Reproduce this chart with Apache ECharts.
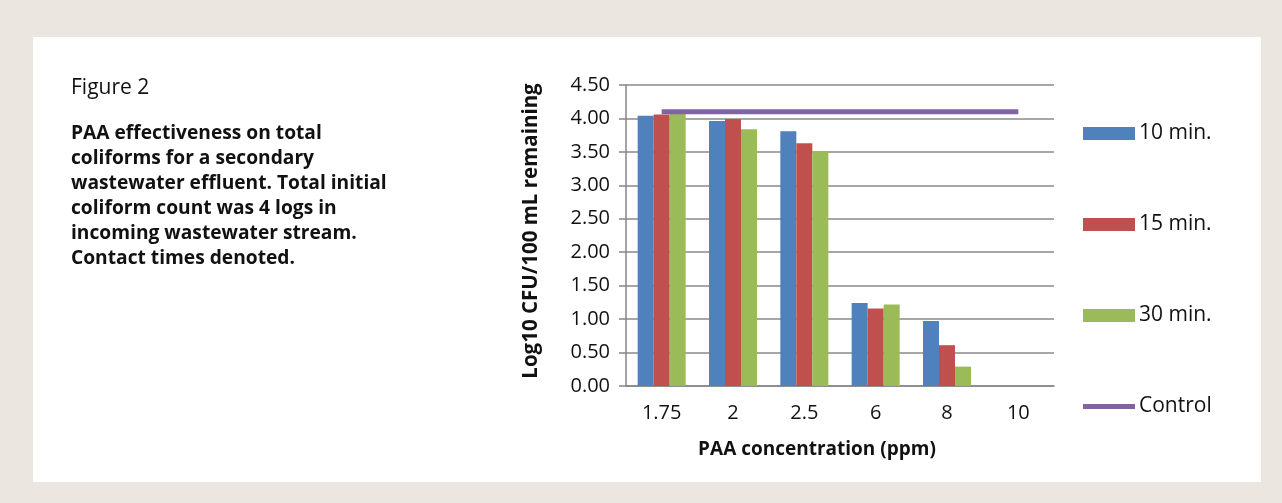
<!DOCTYPE html>
<html>
<head>
<meta charset="utf-8">
<script src="https://cdn.jsdelivr.net/npm/echarts@6/dist/echarts.min.js"></script>
<style>
html,body{margin:0;padding:0;background:#ebe6e0;}
#box{position:absolute;left:33px;top:37px;width:1228px;height:445px;background:#ffffff;}
#chart{position:absolute;left:0;top:0;width:1282px;height:503px;}
</style>
</head>
<body>
<div id="box"></div>
<div id="chart"></div>
<script>
var categories = ['1.75', '2', '2.5', '6', '8', '10'];
var min10 = [4.04, 3.96, 3.81, 1.24, 0.97, 0];
var min15 = [4.06, 3.99, 3.63, 1.16, 0.61, 0];
var min30 = [4.07, 3.84, 3.51, 1.22, 0.29, 0];
var control = [4.10, 4.10, 4.10, 4.10, 4.10, 4.10];
var seriesNames = ['10 min.', '15 min.', '30 min.', 'Control'];
var captionTitle = 'Figure 2';
var captionLines = [
  'PAA effectiveness on total',
  'coliforms for a secondary',
  'wastewater effluent. Total initial',
  'coliform count was 4 logs in',
  'incoming wastewater stream.',
  'Contact times denoted.'
];
var xTitle = 'PAA concentration (ppm)';
var yTitle = 'Log10 CFU/100 mL remaining';

var FONT = 'Open Sans';
var chart = echarts.init(document.getElementById('chart'), null, {renderer: 'canvas'});

var graphics = [{
  type: 'text', x: 71, y: 88,
  style: {text: captionTitle, font: '21px "' + FONT + '"', fill: '#111', textVerticalAlign: 'middle', verticalAlign: 'middle'}
}];
captionLines.forEach(function (t, i) {
  graphics.push({
    type: 'text', x: 71, y: 134 + i * 25,
    style: {text: t, font: 'bold 19.2px "' + FONT + '"', fill: '#111', textVerticalAlign: 'middle', verticalAlign: 'middle'}
  });
});
graphics.push({
  type: 'text', x: 817, y: 450,
  style: {text: xTitle, font: 'bold 19px "' + FONT + '"', fill: '#111', align: 'center', verticalAlign: 'middle', textAlign: 'center', textVerticalAlign: 'middle'}
});
graphics.push({
  type: 'text', x: 531, y: 231, rotation: Math.PI / 2,
  style: {text: yTitle, font: 'bold 20.5px "' + FONT + '"', fill: '#111', align: 'center', verticalAlign: 'middle', textAlign: 'center', textVerticalAlign: 'middle'}
});

function barSeries(name, data, color) {
  return {
    name: name, type: 'bar', data: data, barWidth: 16, barGap: '0%',
    itemStyle: {color: color}, z: 2
  };
}

chart.setOption({
  animation: false,
  textStyle: {fontFamily: FONT},
  graphic: graphics,
  grid: {left: 626, right: 228, top: 85, bottom: 117, containLabel: false},
  legend: {
    orient: 'vertical', left: 1083, top: 123, padding: 0,
    itemWidth: 52, itemHeight: 13, itemGap: 70,
    textStyle: {fontSize: 21, color: '#111', fontFamily: FONT, padding: [0, 0, 0, -1]},
    data: [
      {name: seriesNames[0], icon: 'rect'},
      {name: seriesNames[1], icon: 'rect'},
      {name: seriesNames[2], icon: 'rect'},
      {name: seriesNames[3], icon: 'path://M0,0 L52,0 L52,5 L0,5 Z', itemStyle: {color: '#8064a2'}}
    ]
  },
  xAxis: {
    type: 'category', data: categories,
    axisLine: {lineStyle: {color: '#868686', width: 1.5}},
    axisTick: {show: false},
    axisLabel: {fontSize: 20, color: '#111', margin: 17}
  },
  yAxis: {
    type: 'value', min: 0, max: 4.5, interval: 0.5,
    axisLine: {show: true, lineStyle: {color: '#868686', width: 1.5}},
    axisTick: {show: true, length: 7, lineStyle: {color: '#868686', width: 1.5}},
    axisLabel: {fontSize: 20, color: '#111', margin: 16, formatter: function (v) { return v.toFixed(2); }},
    splitLine: {lineStyle: {color: '#8a8a8a', width: 1.5}}
  },
  series: [
    barSeries(seriesNames[0], min10, '#4f81bd'),
    barSeries(seriesNames[1], min15, '#c0504d'),
    barSeries(seriesNames[2], min30, '#9bbb59'),
    {
      name: seriesNames[3], type: 'line', data: control, symbol: 'none', showSymbol: false,
      lineStyle: {color: '#8064a2', width: 5}, itemStyle: {color: '#8064a2'}, z: 3
    }
  ]
});
</script>
</body>
</html>
